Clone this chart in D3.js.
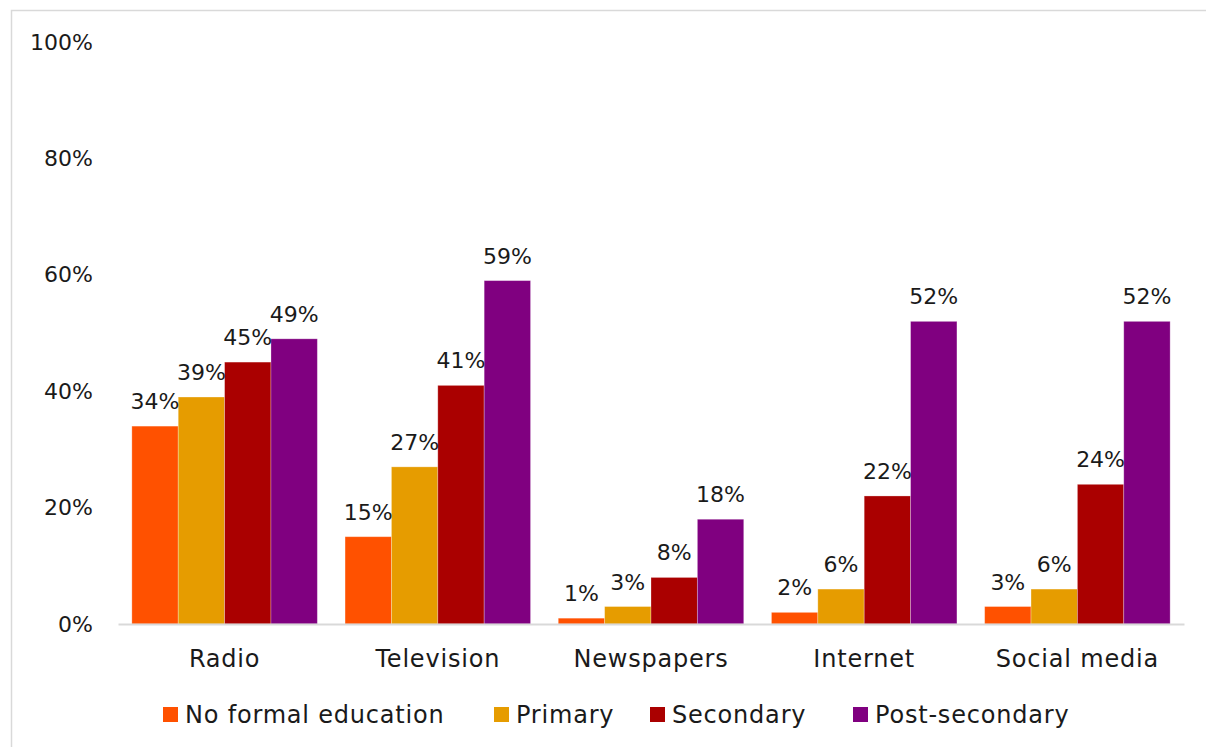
<!DOCTYPE html>
<html>
<head>
<meta charset="utf-8">
<script src="https://cdn.jsdelivr.net/npm/d3@7"></script>
<style>
  html, body { margin: 0; padding: 0; background: #fff; }
  svg text { font-family: "DejaVu Sans", sans-serif; fill: #1a1a1a; }
</style>
</head>
<body>
<svg id="chart" width="1206" height="747"></svg>
<script>
// Media use by education level (share of respondents)
const categories = ["Radio", "Television", "Newspapers", "Internet", "Social media"];
const seriesNames = ["No formal education", "Primary", "Secondary", "Post-secondary"];
const noFormal = [0.34, 0.15, 0.01, 0.02, 0.03];
const primary = [0.39, 0.27, 0.03, 0.06, 0.06];
const secondary = [0.45, 0.41, 0.08, 0.22, 0.24];
const postSecondary = [0.49, 0.59, 0.18, 0.52, 0.52];
const yTicks = [0, 0.2, 0.4, 0.6, 0.8, 1.0];
const colors = ["#FF5100", "#E69C00", "#AA0000", "#800080"];

const seriesValues = [noFormal, primary, secondary, postSecondary];

const svg = d3.select("#chart");
const W = 1206, H = 747;
const plot = { left: 118, right: 1184, top: 42, bottom: 624 };

// Outer chart frame
svg.append("rect")
  .attr("x", 11.5).attr("y", 10.5)
  .attr("width", W + 20).attr("height", H + 20)
  .attr("fill", "none").attr("stroke", "#d9d9d9").attr("stroke-width", 1.5);

const x0 = d3.scaleBand().domain(categories)
  .range([plot.left, plot.right]).paddingInner(0.13).paddingOuter(0.065);
const x1 = d3.scaleBand().domain(seriesNames).range([0, x0.bandwidth()]);
const y = d3.scaleLinear().domain([0, 1]).range([plot.bottom, plot.top]);

// Y axis labels (no axis line)
const yAxis = d3.axisLeft(y).tickValues(yTicks).tickFormat(d3.format(".0%")).tickSize(0).tickPadding(0);
const yg = svg.append("g").attr("transform", "translate(93,0)").call(yAxis);
yg.select(".domain").remove();
yg.selectAll("text").attr("font-size", 22).attr("font-family", "DejaVu Sans, sans-serif").attr("fill", "#1a1a1a");

// Bars
const groups = svg.append("g").selectAll("g")
  .data(categories)
  .join("g")
  .attr("transform", d => `translate(${x0(d)},0)`);

groups.selectAll("rect")
  .data((c, ci) => seriesNames.map((s, si) => ({ s, si, v: seriesValues[si][ci] })))
  .join("rect")
  .attr("x", d => x1(d.s))
  .attr("y", d => y(d.v))
  .attr("width", x1.bandwidth())
  .attr("height", d => y(0) - y(d.v))
  .attr("fill", d => colors[d.si])
  .attr("stroke", "#ffffff").attr("stroke-opacity", 0.35).attr("stroke-width", 0.8);

// Value labels
groups.selectAll("text.val")
  .data((c, ci) => seriesNames.map((s, si) => ({ s, si, v: seriesValues[si][ci] })))
  .join("text")
  .attr("class", "val")
  .attr("x", d => x1(d.s) + x1.bandwidth() / 2)
  .attr("y", d => y(d.v) - 17)
  .attr("text-anchor", "middle")
  .attr("font-size", 22)
  .text(d => d3.format(".0%")(d.v));

// X axis baseline and category labels
const xAxis = d3.axisBottom(x0).tickSize(0).tickPadding(26);
const xg = svg.append("g").attr("transform", `translate(0,${plot.bottom})`).call(xAxis);
xg.select(".domain").attr("stroke", "#d9d9d9").attr("stroke-width", 2);
xg.selectAll("text").attr("font-size", 24).attr("letter-spacing", 0.8)
  .attr("font-family", "DejaVu Sans, sans-serif").attr("fill", "#1a1a1a");

// Legend
const legendX = [163, 494, 650, 853];
const legend = svg.append("g").selectAll("g")
  .data(seriesNames)
  .join("g")
  .attr("transform", (d, i) => `translate(${legendX[i]},707)`);
legend.append("rect").attr("width", 15).attr("height", 15).attr("fill", (d, i) => colors[i]);
legend.append("text").attr("x", 22).attr("y", 16).attr("font-size", 24).attr("letter-spacing", 0.8).text(d => d);
</script>
</body>
</html>
